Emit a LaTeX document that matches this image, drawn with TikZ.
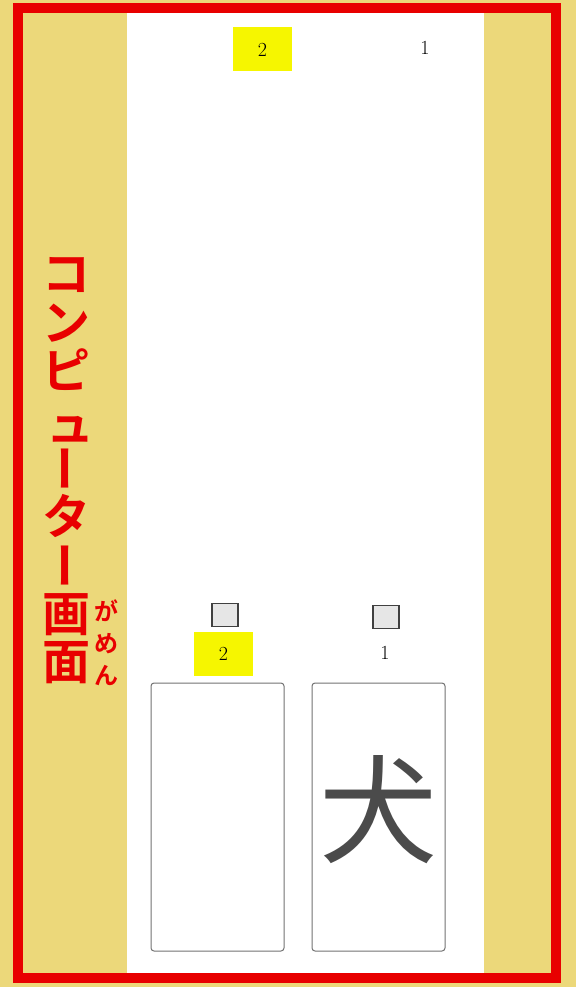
\documentclass[tikz,border=0pt]{standalone}
\usepackage{fontspec}
\newfontfamily\jp{Noto Sans CJK JP}[BoldFont={Noto Sans CJK JP Bold}]
\definecolor{gold}{RGB}{236,216,122}
\definecolor{redb}{RGB}{232,0,0}
\definecolor{yel}{RGB}{246,246,0}
\definecolor{boxgray}{RGB}{230,230,230}
\definecolor{ink}{RGB}{75,75,75}
\tikzset{
  vchar/.style={inner sep=0pt, text height=39.36pt, text depth=3.84pt, font=\jp\bfseries\fontsize{48}{48}\selectfont, text=redb},
  ruby/.style={inner sep=0pt, text height=19.68pt, text depth=1.92pt, font=\jp\bfseries\fontsize{24}{24}\selectfont, text=redb},
  num/.style={inner sep=0pt, font=\fontsize{20}{20}\selectfont},
  hilite/.style={fill=yel, minimum width=59pt, minimum height=44pt, inner sep=0pt, font=\fontsize{20}{20}\selectfont},
  chk/.style={draw=black!75, line width=1.2pt, fill=boxgray, minimum width=26pt, minimum height=23pt, inner sep=0pt},
  card/.style={draw=black!55, line width=1pt, rounded corners=3pt, fill=white},
}
\begin{document}
\begin{tikzpicture}[x=1pt,y=-1pt]
\fill[gold] (0,0) rectangle (576,987);
\useasboundingbox (0,0) rectangle (576,987);
% white panel
\fill[white] (127,13) rectangle (484,973);
% red frame
\draw[redb, line width=10pt] (18,8) rectangle (556,978);
% top labels
\node[hilite] (t2) at (262.5,49.5) {2};
\node[num] (t1) at (425,48) {1};
% check boxes
\node[chk] (c2) at (225,615) {};
\node[chk] (c1) at (386,617) {};
% bottom labels
\node[hilite] (b2) at (223.5,654) {2};
\node[num] (b1) at (385,653) {1};
% cards
\draw[card] (151,683) rectangle (284,951);
\draw[card] (312,683) rectangle (445,951);
\node[inner sep=0pt, text height=96.76pt, text depth=9.44pt, font=\jp\fontsize{118}{118}\selectfont, text=ink] (inu) at (378,811) {犬};
% vertical title
\node[vchar] (v1) at (66,274) {コ};
\node[vchar] (v2) at (66,322.5) {ン};
\node[vchar] (v3) at (66,371) {ピ};
\node[vchar] (v4) at (70,424) {ュ};
\node[vchar, rotate=90] (v5) at (66,468) {ー};
\node[vchar] (v6) at (66,516.5) {タ};
\node[vchar, rotate=90] (v7) at (66,565) {ー};
\node[vchar] (v8) at (66,613.5) {画};
\node[vchar] (v9) at (66,662) {面};
% furigana
\node[ruby] (r1) at (106,612) {が};
\node[ruby] (r2) at (106,644) {め};
\node[ruby] (r3) at (106,676) {ん};
\end{tikzpicture}
\end{document}
